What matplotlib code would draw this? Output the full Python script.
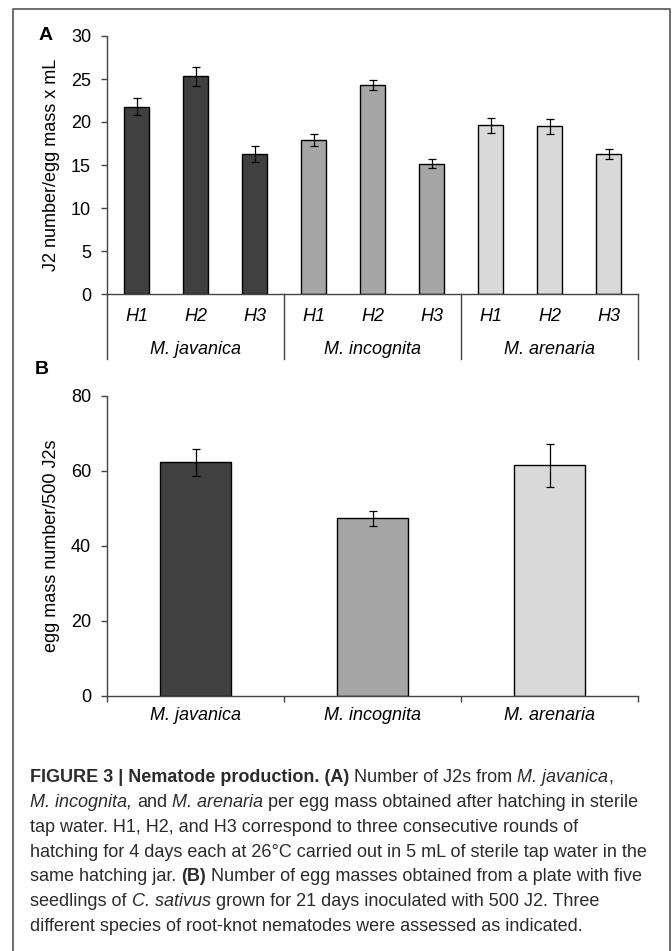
import matplotlib
matplotlib.use("Agg")
import matplotlib.pyplot as plt
from matplotlib.lines import Line2D

plt.rcParams['font.family'] = ['Liberation Sans', 'DejaVu Sans']

# data
species = ["M. javanica", "M. incognita", "M. arenaria"]
rounds = ["H1", "H2", "H3"]
colors = ["#404040", "#a6a6a6", "#d9d9d9"]

# panel A: J2 per egg mass, per hatching round
j2_mean = [[21.8, 25.3, 16.3],
           [17.9, 24.3, 15.15],
           [19.6, 19.5, 16.3]]
j2_err = [[0.95, 1.15, 0.9],
          [0.65, 0.6, 0.55],
          [0.85, 0.9, 0.6]]

# panel B: egg masses per 500 J2s
egg_mean = [62.2, 47.3, 61.4]
egg_err = [3.6, 2.0, 5.7]

W, H = 672, 951
fig = plt.figure(figsize=(W / 100, H / 100), dpi=100)

def fx(px):
    return px / W

def fy(py):
    return 1 - py / H

axis_col = "#444444"
fs = 13

# ---------- panel A ----------
axA = fig.add_axes([fx(107), fy(294), fx(638) - fx(107), fy(36) - fy(294)])
n_r = len(rounds)
for g, sp in enumerate(species):
    xs = [g * n_r + i for i in range(n_r)]
    axA.bar(xs, j2_mean[g], width=0.42, color=colors[g], edgecolor="black", linewidth=1.0,
            zorder=2)
    axA.errorbar(xs, j2_mean[g], yerr=j2_err[g], fmt="none", ecolor="black",
                 elinewidth=0.9, capsize=2.8, capthick=0.9, zorder=3)
    for i, r in enumerate(rounds):
        axA.text(xs[i], -0.088, r, transform=axA.get_xaxis_transform(), ha="center",
                 va="center", fontsize=fs, style="italic")
    axA.text(g * n_r + 1, -0.214, sp, transform=axA.get_xaxis_transform(), ha="center",
             va="center", fontsize=fs, style="italic")

n_all = len(species) * n_r
axA.set_xlim(-0.5, n_all - 0.5)
axA.set_ylim(0, 30)
axA.set_yticks([0, 5, 10, 15, 20, 25, 30])
axA.set_xticks([])
axA.set_ylabel("J2 number/egg mass x mL", fontsize=fs, labelpad=8)
for s in ["top", "right"]:
    axA.spines[s].set_visible(False)
for s in ["left", "bottom"]:
    axA.spines[s].set_color(axis_col)
    axA.spines[s].set_linewidth(1.0)
axA.tick_params(axis="y", direction="out", length=4.5, width=1.0, color=axis_col,
                labelsize=fs, pad=7)
# group separators below the axis
for b in range(len(species) + 1):
    axA.add_line(Line2D([b * n_r - 0.5] * 2, [0, -0.253], transform=axA.get_xaxis_transform(),
                        color=axis_col, linewidth=1.0, clip_on=False))

# ---------- panel B ----------
axB = fig.add_axes([fx(107), fy(695.7), fx(638) - fx(107), fy(395.7) - fy(695.7)])
xb = list(range(len(species)))
axB.bar(xb, egg_mean, width=0.40, color=colors, edgecolor="black", linewidth=1.0, zorder=2)
axB.errorbar(xb, egg_mean, yerr=egg_err, fmt="none", ecolor="black", elinewidth=0.9,
             capsize=2.8, capthick=0.9, zorder=3)
axB.set_xlim(-0.5, len(species) - 0.5)
axB.set_ylim(0, 80)
axB.set_yticks([0, 20, 40, 60, 80])
axB.set_xticks(xb)
axB.set_xticklabels(species, fontsize=fs, style="italic")
axB.set_xticks([i - 0.5 for i in range(len(species) + 1)], minor=True)
axB.tick_params(axis="x", which="major", length=0, pad=8)
axB.tick_params(axis="x", which="minor", direction="out", length=4, width=1.0, color=axis_col)
axB.tick_params(axis="y", direction="out", length=4.5, width=1.0, color=axis_col,
                labelsize=fs, pad=7)
axB.set_ylabel("egg mass number/500 J2s", fontsize=fs, labelpad=8)
for s in ["top", "right"]:
    axB.spines[s].set_visible(False)
for s in ["left", "bottom"]:
    axB.spines[s].set_color(axis_col)
    axB.spines[s].set_linewidth(1.0)

# panel letters
fig.text(fx(46), fy(36), "A", fontsize=14, fontweight="bold", ha="center", va="center")
fig.text(fx(42), fy(369), "B", fontsize=14, fontweight="bold", ha="center", va="center")

# outer frame (open at the bottom)
fr = "#555555"
fig.add_artist(Line2D([fx(13), fx(13), fx(670), fx(670)], [0, fy(9), fy(9), 0],
                      transform=fig.transFigure, color=fr, linewidth=1.2))

# ---------- caption ----------
cap_lines = [
    [("FIGURE 3 | Nematode production. (A)", "b"), (" Number of J2s from ", "n"),
     ("M. javanica", "i"), (",", "n")],
    [("M. incognita,", "i"), (" and ", "n"), ("M. arenaria", "i"),
     (" per egg mass obtained after hatching in sterile", "n")],
    [("tap water. H1, H2, and H3 correspond to three consecutive rounds of", "n")],
    [("hatching for 4 days each at 26°C carried out in 5 mL of sterile tap water in the", "n")],
    [("same hatching jar. ", "n"), ("(B)", "b"),
     (" Number of egg masses obtained from a plate with five", "n")],
    [("seedlings of ", "n"), ("C. sativus", "i"),
     (" grown for 21 days inoculated with 500 J2. Three", "n")],
    [("different species of root-knot nematodes were assessed as indicated.", "n")],
]
cap_size = 13.0
cap_col = "#2b2b2b"
renderer = fig.canvas.get_renderer()

def tw(s, **kw):
    t = fig.text(0, 0, s, fontsize=cap_size, **kw)
    w = t.get_window_extent(renderer).width
    t.remove()
    return w

space_w = tw("x x") - tw("xx")
styles = {"n": {}, "b": {"fontweight": "bold"}, "i": {"style": "italic"}}
for k, line in enumerate(cap_lines):
    x = 30.0
    y = 777.7 + k * 24.8
    for txt, st in line:
        lead = len(txt) - len(txt.lstrip(" "))
        trail = len(txt) - len(txt.rstrip(" "))
        core = txt.strip(" ")
        x += lead * space_w
        t = fig.text(fx(x), fy(y), core, fontsize=cap_size, color=cap_col, va="center",
                     ha="left", **styles[st])
        x += t.get_window_extent(renderer).width + trail * space_w

fig.savefig("out.png", dpi=100)
